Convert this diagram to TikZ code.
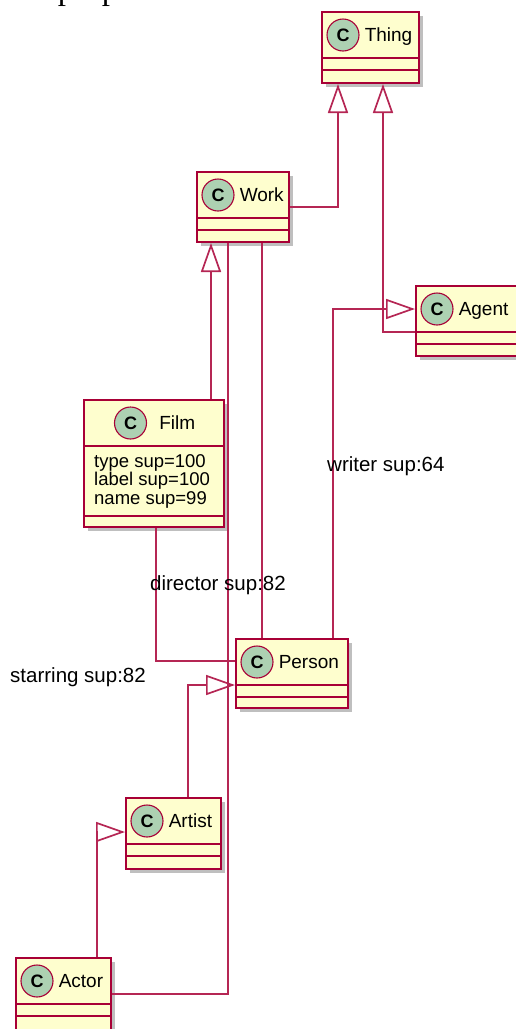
\documentclass[tikz,border=0pt]{standalone}
\usepackage{fontspec}
\setmainfont{Liberation Sans}
\newfontfamily\bookfont{Liberation Serif}
\usetikzlibrary{arrows.meta,positioning,fit,shadows}

\definecolor{umlred}{HTML}{A80036}
\definecolor{umlfill}{HTML}{FEFECE}
\definecolor{umlmark}{HTML}{ADD1B2}

\tikzset{
	classbox/.style={draw=umlred, fill=umlfill, line width=2pt, inner sep=0pt,
		drop shadow={shadow xshift=4pt, shadow yshift=-4pt, fill=black, opacity=0.25}},
	classline/.style={draw=umlred, line width=1.8pt},
	classmark/.style={circle, draw=umlred, fill=umlmark, line width=1.1pt, minimum size=32pt,
		inner sep=0pt, font=\fontsize{18}{18}\selectfont\bfseries},
	classname/.style={inner sep=0pt, font=\fontsize{19}{19}\selectfont},
	linklabel/.style={inner sep=0pt, font=\fontsize{20.5}{20.5}\selectfont},
	link/.style={draw=umlred!85, line width=1.7pt},
	extends/.style={link, -{Triangle[open, length=29pt, width=20pt]}},
}

\newcommand{\umlclass}[4]{%
	\node[classbox, fit={#2 #3}] (#1) {};
	\draw[classline] ([yshift=-47pt]#1.north west) -- ([yshift=-47pt]#1.north east);
	\draw[classline] ([yshift=-59pt]#1.north west) -- ([yshift=-59pt]#1.north east);
	\node[classmark] (#1-c) at ([xshift=22pt,yshift=-24pt]#1.north west) {C};
	\node[classname, anchor=base west] (#1-name) at ([xshift=5pt,yshift=-6.8pt]#1-c.east) {#4};
}

\begin{document}
\begin{tikzpicture}[x=1pt,y=-1pt]
	\useasboundingbox (0,0) rectangle (516,1029);

	\node[anchor=base west, inner sep=0pt, font=\bookfont\fontsize{33}{33}\selectfont] (intro) at (11,-1) {ate properties.};

	\umlclass{thing}{(322,12)}{(419,83)}{Thing}
	\umlclass{work}{(197,172)}{(289,242)}{Work}
	\umlclass{agent}{(416,286)}{(518,356)}{Agent}
	\umlclass{person}{(236,639)}{(348,708)}{Person}
	\umlclass{artist}{(126,798)}{(221,869)}{Artist}
	\umlclass{actor}{(16,958)}{(111,1029.5)}{Actor}

	\node[classbox, fit={(84,400) (224,527)}] (film) {};
	\draw[classline] ([yshift=-47pt]film.north west) -- ([yshift=-47pt]film.north east);
	\draw[classline] ([yshift=-117pt]film.north west) -- ([yshift=-117pt]film.north east);
	\node[classmark] (film-c) at ([xshift=47.5pt,yshift=-24pt]film.north west) {C};
	\node[classname, anchor=base west] (film-name) at ([xshift=12pt,yshift=-6.8pt]film-c.east) {Film};
	\node[classname, anchor=north west, align=left, font=\fontsize{18.5}{18.5}\selectfont] (film-attr)
		at ([xshift=11pt,yshift=-55pt]film.north west) {type sup=100\\label sup=100\\name sup=99};

	\draw[extends] (work.east) -| ([xshift=17pt]thing.south west);
	\draw[extends] ([yshift=-47pt]agent.north west) -| ([xshift=-37pt]thing.south east);
	\draw[extends] ([xshift=-16pt]person.north east) |- ([yshift=-24pt]agent.north west);
	\draw[extends] ([xshift=-14pt]film.north east) -- ([xshift=-14pt]film.north east |- work.south);
	\draw[link] ([xshift=32pt]work.south west) |- (actor.east);
	\draw[link] ([xshift=66pt]work.south west) -- ([xshift=27pt]person.north west);
	\draw[link] ([xshift=73pt]film.south west) |- ([yshift=-23pt]person.north west);
	\draw[extends] ([xshift=63pt]artist.north west) |- ([yshift=-47pt]person.north west);
	\draw[extends] ([xshift=82pt]actor.north west) |- ([yshift=-35pt]artist.north west);

	\node[linklabel, anchor=base west] (writer) at (327,471) {writer sup:64};
	\node[linklabel, anchor=base west] (director) at (150,590) {director sup:82};
	\node[linklabel, anchor=base west] (starring) at (10,682) {starring sup:82};

\end{tikzpicture}
\end{document}
